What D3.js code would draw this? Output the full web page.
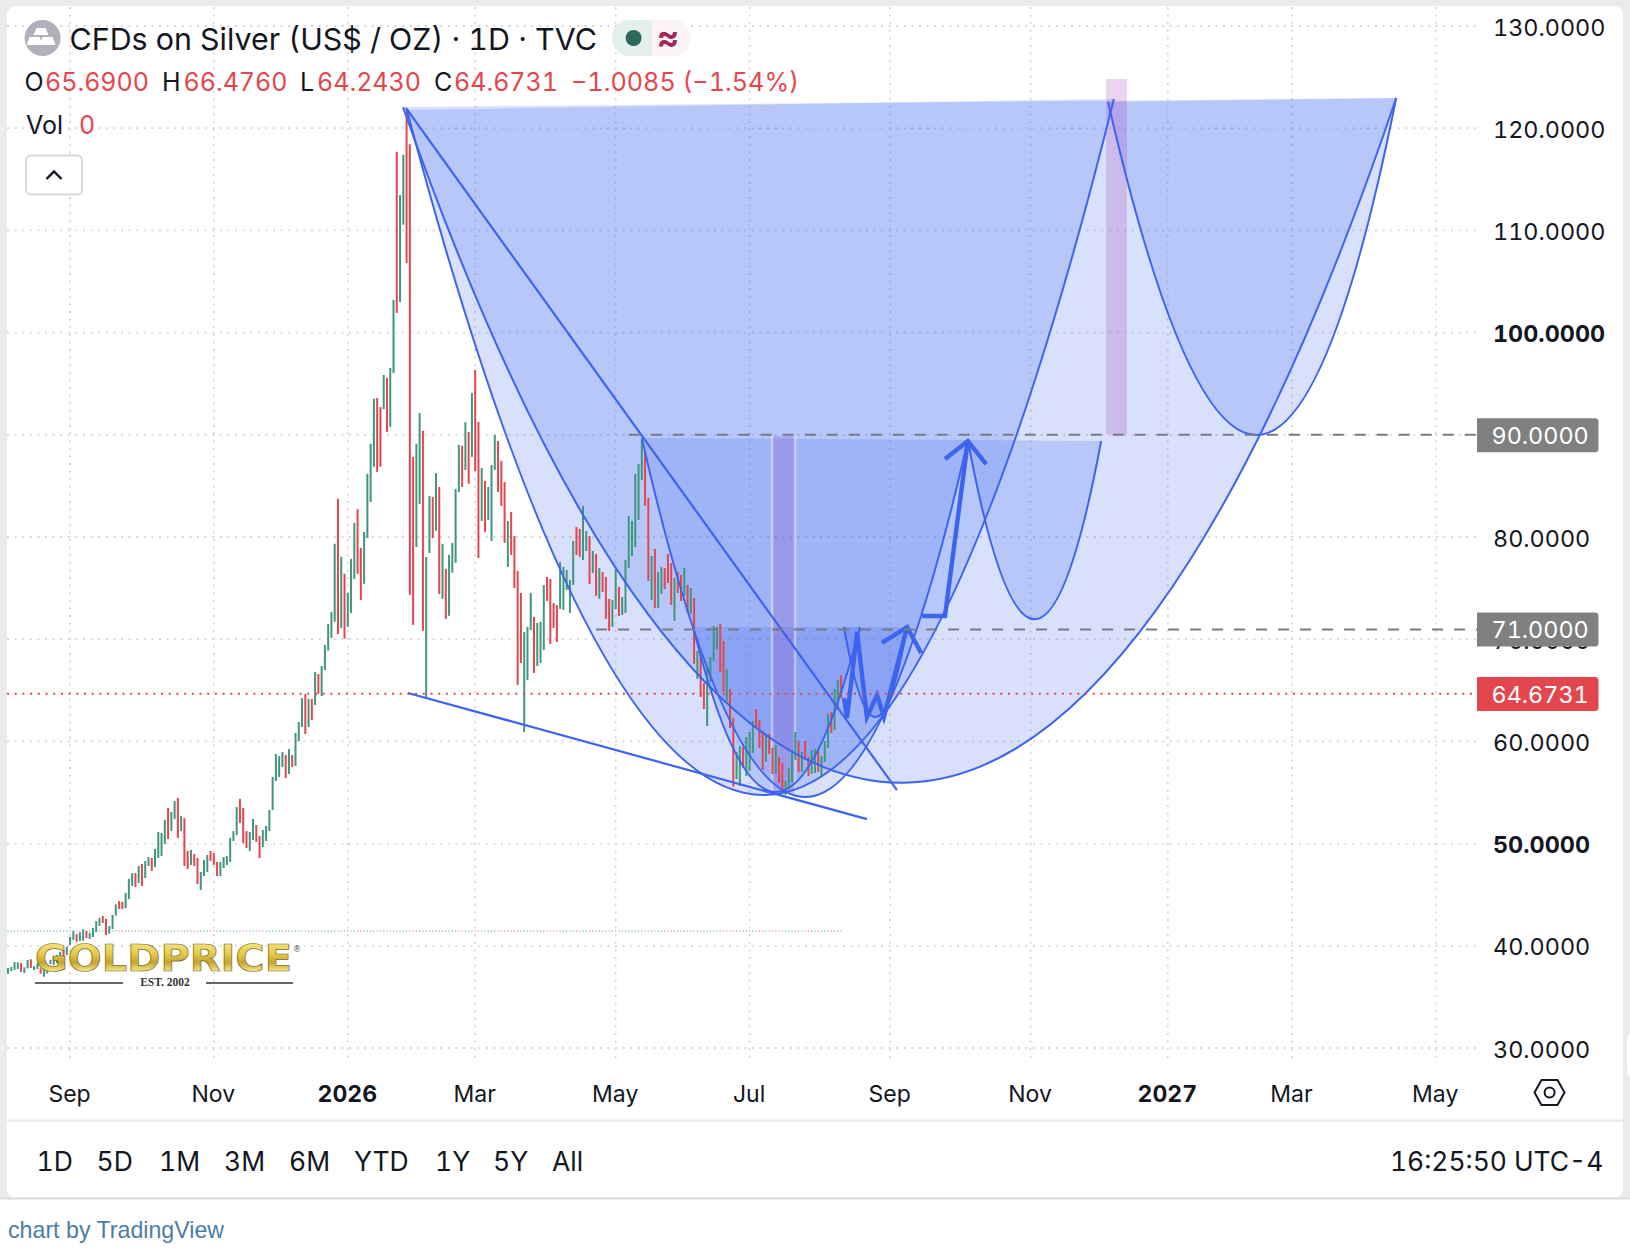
<!DOCTYPE html>
<html><head><meta charset="utf-8">
<script src="https://cdn.jsdelivr.net/npm/d3@7/dist/d3.min.js"></script>
<style>html,body{margin:0;padding:0;background:#fff;}svg{display:block;}
text{font-variant-numeric:tabular-nums;}</style>
</head><body><svg id="c" width="1630" height="1250"></svg>
<script>
// ---------- values ----------
const barHigh = [37.83,37.93,38.41,38.38,38.32,37.89,38.61,38.68,38.02,38.28,
37.79,37.63,38.12,38.61,38.94,39.1,39.43,39.6,39.92,40.86,
41.45,41.15,41.32,41.61,41.45,41.25,41.74,42.43,42.72,42.92,
42.62,41.94,43.01,44.06,44.38,44.29,45.17,46.54,47.12,47.12,
47.81,48.0,48.3,48.69,48.59,49.47,51.14,51.04,52.31,53.48,
53.09,54.17,54.46,52.7,52.5,49.28,49.37,48.98,48.59,47.22,
48.4,48.88,49.28,49.08,48.2,48.2,48.69,48.79,50.55,51.23,
53.58,54.36,53.48,51.23,51.14,52.41,51.82,50.74,51.33,51.72,
53.29,56.52,58.77,58.57,58.96,58.67,59.25,58.67,60.82,61.9,
64.25,64.64,64.15,64.15,66.79,66.59,67.38,69.43,71.48,72.68,
79.33,83.74,78.05,76.39,74.53,77.86,81.38,82.73,78.94,80.49,
86.18,89.12,93.53,93.6,92.71,95.85,95.58,96.54,103.2,117.67,
113.45,117.4,121.81,118.44,87.84,89.12,92.14,90.39,78.05,84.01,
83.93,86.25,84.9,79.33,76.89,78.25,79.41,84.71,89.0,88.92,
91.24,90.28,94.09,96.34,91.25,86.75,85.48,84.89,87.05,89.98,
89.4,87.44,85.38,81.57,82.45,80.1,76.68,74.52,70.71,71.2,
74.52,72.17,71.59,71.69,75.3,76.09,75.89,73.54,73.35,77.56,
77.07,76.77,75.8,79.61,80.98,80.79,83.04,80.59,80.1,78.63,
78.34,76.97,76.58,76.09,73.94,73.84,76.87,75.11,74.13,77.75,
82.06,81.57,86.17,87.15,89.49,88.42,83.82,78.14,78.83,76.58,
77.07,76.97,78.34,77.46,75.99,76.58,76.28,76.97,75.3,75.01,
74.03,68.85,68.95,65.72,67.48,68.26,71.29,71.2,71.49,69.83,
67.09,65.13,62.29,58.96,59.55,59.45,60.43,60.92,62.0,63.17,
62.1,61.02,60.63,60.73,59.36,59.65,58.48,57.89,56.13,57.4,
59.16,60.92,60.04,58.96,60.04,58.48,59.16,59.26,59.06,58.57,
60.04,62.68,62.88,65.13,66.01,66.48];
const barLow = [37.27,37.53,37.63,37.73,37.44,37.34,37.79,37.83,37.63,37.73,
37.27,36.98,37.3,38.22,38.12,38.3,38.61,38.77,39.1,40.08,
40.57,40.4,40.47,40.5,40.76,40.67,40.86,41.35,41.94,42.23,
41.06,41.19,41.64,42.95,43.6,43.6,43.7,44.58,45.85,45.75,
46.15,45.85,46.63,47.81,47.32,47.71,48.59,48.79,49.96,50.45,
51.23,52.41,50.55,51.23,47.81,47.51,47.91,47.81,46.05,45.46,
46.83,47.22,48.3,47.91,46.83,46.83,47.61,47.91,48.2,50.25,
50.84,52.02,50.06,49.57,49.28,50.35,50.16,48.59,49.67,50.25,
51.23,53.29,56.12,56.52,57.49,56.42,56.81,57.49,57.59,60.04,
61.41,60.72,61.41,62.09,63.56,64.64,64.44,66.98,68.89,70.12,
71.71,70.51,71.09,70.05,71.21,72.56,75.89,76.39,73.84,75.42,
79.91,83.43,86.87,86.37,86.87,92.52,90.28,90.78,96.04,101.92,
103.0,110.55,106.8,74.34,71.4,79.02,83.24,70.82,64.17,78.44,
79.91,80.61,74.42,73.95,71.98,72.29,76.51,77.47,84.4,84.9,
86.56,85.21,87.83,86.46,77.95,81.57,80.49,81.67,79.61,86.56,
84.41,83.04,79.42,77.07,78.24,75.01,65.52,67.67,60.92,66.01,
70.9,66.7,67.38,67.67,68.95,73.74,69.53,71.1,69.73,72.96,
72.86,74.82,72.57,75.31,78.24,78.05,77.75,78.63,75.4,76.48,
74.23,73.94,74.62,71.98,70.81,71.2,72.96,72.27,72.37,72.57,
76.97,78.14,79.02,81.67,85.58,83.04,75.7,73.84,73.06,73.06,
74.43,74.91,75.5,73.35,71.78,74.52,73.74,74.23,72.57,72.47,
67.58,66.11,64.35,63.17,61.51,65.82,67.87,69.04,66.79,64.84,
63.96,61.31,55.57,56.32,55.64,57.4,56.62,57.11,58.87,61.31,
59.36,57.2,57.99,58.77,56.81,56.81,55.93,55.25,54.76,55.44,
56.03,58.18,57.01,57.01,58.18,56.62,56.81,56.91,57.01,56.52,
57.99,59.36,60.82,61.12,63.07,64.24];
const barRising = [1,1,1,1,0,1,1,0,1,1, 0,1,1,1,1,1,1,0,1,1, 1,0,1,1,0,1,1,1,1,0,
0,1,1,1,0,0,1,1,1,0, 1,0,1,1,0,1,1,1,1,0, 1,1,0,1,0,0,1,0,0,1,
1,1,0,0,0,1,1,1,1,1, 1,0,0,0,1,1,0,0,1,1, 1,1,1,1,1,0,1,0,1,1,
1,0,1,0,1,0,1,1,1,1, 1,0,1,0,1,1,1,0,0,1, 1,1,1,0,0,1,0,1,1,0,
1,1,0,0,0,1,1,0,1,1, 0,1,0,1,0,1,1,1,1,0, 1,0,1,0,0,1,0,1,1,1,
0,0,0,1,0,0,0,0,1,1, 1,0,1,1,1,0,0,0,0,1, 1,1,1,1,0,0,1,1,0,1,
0,1,0,0,0,1,1,0,1,1, 1,1,1,1,1,0,0,1,0,1, 1,0,0,0,1,0,0,1,0,1,
0,1,0,0,1,1,1,1,0,0, 1,0,0,1,1,0,1,1,1,0, 0,0,1,0,0,1,0,0,1,1,
1,1,0,1,0,0,1,1,0,1, 1,1,0,1,1,0];

const priceTicks = [130,120,110,100,90,80,70,60,50,40,30];
const boldPrices = [100,50];
const timeTicks  = [19,63,104,143,186,227,270,313,355,393,437];
const timeLabels = ["Sep","Nov","2026","Mar","May","Jul","Sep","Nov","2027","Mar","May"];
const boldTimes  = ["2026","2027"];
const rangeLabels = ["1D","5D","1M","3M","6M","YTD","1Y","5Y","All"];

// cup drawings: session, price, left & right control session, control price, session, price
const cups = [
 [120.9,122.07,266.3,283.8,-10.6,424.9,122.95],
 [122.1,121.78,233.2,233.2,-12.8,338.5,122.86],
 [194.0,89.69,244.0,244.0,19.53,293.8,89.49],
 [293.8,89.49,314.2,314.2,54.46,334.6,89.39],
 [336.7,122.56,383.8,383.8,57.2,424.9,122.95],
 [209.7,71.19,234.8,234.8,38.9,260.8,71.19],
 [255.9,71.19,265.4,265.4,53.58,275.2,71.19]
];
const straightLines = [
 [[121.8,121.98],[272.1,55.24]],
 [[122.4,64.74],[262.9,52.4]]
];
const arrowPaths = [
 [[255.9,64.25],[256.8,62.29],[259.9,70.7],[262.9,62.39],[266,64.54],[268.1,62.39],[275.2,71.19]],
 [[267.5,69.63],[275.2,71.19],[279.5,68.65]],
 [[279.8,72.27],[286.8,72.27],[293.8,89.39]],
 [[286.8,87.63],[293.8,89.39],[299.4,87.14]]
];
const bandPurple = [336.1,342.5,124.81,90.08];
const bandViolet = [233.9,240.9,89.88,54.95];
const level90 = 90, level71 = 71, lastPrice = 64.6731;
const levelStart90 = 190, levelStart71 = 180;
const volBaseline = 41.45;

const ohlc = [["O","65.6900"],["H","66.4760"],["L","64.2430"],["C","64.6731"]];
const change = "−1.0085 (−1.54%)";

// ---------- layout ----------
const FONT = "Inter, 'Noto Sans', sans-serif";
const GREEN="#41967f", RED="#e4464e", BLUE="#3d64ee", INK="#131722";
const x = d3.scaleLinear().domain([0,437]).range([8,1435.7]);
const y = d3.scaleLinear().domain([30,130]).range([1048,26]);
const plotL=7, plotR=1478, plotT=7, plotB=1063;

const svg = d3.select("#c");
const defs = svg.append("defs");
const grad = defs.append("linearGradient").attr("id","gold").attr("x1",0).attr("x2",0).attr("y1",0).attr("y2",1);
[["0%","#fbf3a8"],["40%","#e6cc4a"],["60%","#c4a330"],["80%","#f5e884"],["100%","#b39430"]]
  .forEach(s=>grad.append("stop").attr("offset",s[0]).attr("stop-color",s[1]));

svg.append("rect").attr("width",1630).attr("height",1199).attr("fill","#ebebeb");
svg.append("rect").attr("x",7).attr("y",6).attr("width",1616).attr("height",1192).attr("rx",9).attr("fill","#fff");
svg.append("rect").attr("x",1627).attr("y",1032).attr("width",12).attr("height",46).attr("rx",8).attr("fill","#fff");
svg.append("rect").attr("x",7).attr("y",1119.5).attr("width",1616).attr("height",2.4).attr("fill","#ebebeb");
svg.append("rect").attr("x",0).attr("y",1197.5).attr("width",1630).attr("height",2).attr("fill","#dcdcdc");

// grid
const grid = svg.append("g").attr("stroke","#d6d6d6").attr("stroke-width",1.8).attr("stroke-dasharray","2 5.6");
priceTicks.forEach(p=>grid.append("line").attr("x1",plotL).attr("x2",plotR).attr("y1",y(p)).attr("y2",y(p)));
timeTicks.forEach(t=>grid.append("line").attr("x1",x(t)).attr("x2",x(t)).attr("y1",plotT).attr("y2",plotB));

function cupPath(c, closed){
  const [a0,p0,ql,qr,qp,a1,p1]=c;
  const X0=x(a0),Y0=y(p0),X1=x(a1),Y1=y(p1);
  const QL=x(ql),QR=x(qr),QY=y(qp);
  const p=d3.path();
  p.moveTo(X0,Y0);
  p.bezierCurveTo(X0+(QL-X0)*2/3,Y0+(QY-Y0)*2/3,X1+(QR-X1)*2/3,Y1+(QY-Y1)*2/3,X1,Y1);
  if(closed) p.closePath();
  return p.toString();
}
// fills
svg.append("g").selectAll("path").data(cups).join("path")
  .attr("d",d=>cupPath(d,true)).attr("fill",BLUE).attr("fill-opacity",0.2);

// bands
const bandRect=(b)=>({x:x(b[0]),w:x(b[1])-x(b[0]),y:y(b[2]),h:y(b[3])-y(b[2])});
{
 const a=bandRect(bandPurple);
 svg.append("rect").attr("x",a.x).attr("y",a.y).attr("width",a.w).attr("height",a.h).attr("fill","#9c27b0").attr("fill-opacity",0.2);
 const b=bandRect(bandViolet);
 svg.append("rect").attr("x",b.x).attr("y",b.y).attr("width",b.w).attr("height",b.h).attr("fill","#8c60c3").attr("fill-opacity",0.3);
 [b.x,b.x+b.w].forEach(v=>svg.append("line").attr("x1",v).attr("x2",v).attr("y1",b.y).attr("y2",b.y+b.h)
   .attr("stroke","#fff").attr("stroke-opacity",0.4).attr("stroke-width",2.6));
}

// volume baseline dots
svg.append("g").selectAll("rect").data(barRising).join("rect")
  .attr("x",(d,i)=>x(i)-0.6).attr("y",y(volBaseline)-0.7).attr("width",1.2).attr("height",1.5)
  .attr("fill",d=>d?"#7fc4b4":"#f0a0a4");

// bars
svg.append("g").selectAll("rect").data(barHigh).join("rect")
  .attr("x",(d,i)=>x(i)-1).attr("width",2)
  .attr("y",d=>y(d)).attr("height",(d,i)=>y(barLow[i])-y(d))
  .attr("fill",(d,i)=>barRising[i]?GREEN:RED);

// curve strokes
svg.append("g").selectAll("path").data(cups).join("path")
  .attr("d",d=>cupPath(d,false)).attr("fill","none").attr("stroke",BLUE).attr("stroke-width",2);
const line=d3.line().x(d=>x(d[0])).y(d=>y(d[1]));
svg.append("g").selectAll("path").data(straightLines).join("path")
  .attr("d",line).attr("fill","none").attr("stroke",BLUE).attr("stroke-width",2.2);
svg.append("g").selectAll("path").data(arrowPaths).join("path")
  .attr("d",line).attr("fill","none").attr("stroke",BLUE).attr("stroke-width",4.4).attr("stroke-linejoin","miter");

// levels
svg.append("line").attr("x1",x(levelStart90)).attr("x2",plotR).attr("y1",y(level90)).attr("y2",y(level90))
  .attr("stroke","#787b86").attr("stroke-width",2).attr("stroke-dasharray","11 11");
svg.append("line").attr("x1",x(levelStart71)).attr("x2",plotR).attr("y1",y(level71)+0.6).attr("y2",y(level71)+0.6)
  .attr("stroke","#787b86").attr("stroke-width",2).attr("stroke-dasharray","11 11");
svg.append("line").attr("x1",plotL).attr("x2",plotR).attr("y1",y(lastPrice)).attr("y2",y(lastPrice))
  .attr("stroke",RED).attr("stroke-width",2).attr("stroke-dasharray","2 5.7");

// logo
const logo=svg.append("g");
logo.append("text").attr("x",35).attr("y",971).attr("font-family","'DejaVu Sans'").attr("font-weight",700)
  .attr("font-size",38).attr("textLength",257).attr("lengthAdjust","spacingAndGlyphs")
  .attr("fill","url(#gold)").attr("stroke","#7d6a1e").attr("stroke-width",0.7).text("GOLDPRICE");
logo.append("text").attr("x",293).attr("y",952).attr("font-family","'DejaVu Sans'").attr("font-size",8).attr("fill","#555").text("®");
logo.append("line").attr("x1",35).attr("x2",123).attr("y1",983).attr("y2",983).attr("stroke","#333").attr("stroke-width",1.4);
logo.append("line").attr("x1",206).attr("x2",293).attr("y1",983).attr("y2",983).attr("stroke","#333").attr("stroke-width",1.4);
logo.append("text").attr("x",165).attr("y",986).attr("text-anchor","middle").attr("font-family","'Liberation Serif'").attr("font-weight",700)
  .attr("font-size",11.5).attr("fill","#333").text("EST. 2002");

// price axis
const yAxis=d3.axisRight(y).tickValues(priceTicks).tickSize(0).tickPadding(0).tickFormat(d=>d3.format(".4f")(d));
const gy=svg.append("g").attr("transform","translate(1493,0.7)").call(yAxis);
gy.select(".domain").remove();
gy.selectAll("text").attr("font-family",FONT).attr("font-size",23.4).attr("fill",INK).attr("dy","0.36em")
  .attr("font-weight",d=>boldPrices.includes(d)?700:400);

// time axis
const xAxis=d3.axisBottom(x).tickValues(timeTicks).tickSize(0).tickPadding(0).tickFormat((d,i)=>timeLabels[i]);
const gx=svg.append("g").attr("transform","translate(-1,1094)").call(xAxis);
gx.select(".domain").remove();
gx.selectAll("text").attr("font-family",FONT).attr("font-size",23).attr("fill",INK).attr("dy","0.36em")
  .attr("font-weight",(d,i)=>boldTimes.includes(timeLabels[i])?700:400);

// last / level labels
function priceLabel(v,txt,col){
  const cy=y(v)+0.4;
  svg.append("path").attr("d",`M1477 ${cy-17}H1595a3.5 3.5 0 0 1 3.5 3.5V${cy+13.5}a3.5 3.5 0 0 1 -3.5 3.5H1477Z`).attr("fill",col);
  svg.append("text").attr("x",1491.5).attr("y",cy+0.5).attr("dy","0.36em").attr("font-family",FONT).attr("font-size",23.4).attr("fill","#fff").text(txt);
}
priceLabel(level90,"90.0000","#808080");
priceLabel(level71,"71.0000","#808080");
priceLabel(lastPrice,"64.6731",RED);

// header
svg.append("circle").attr("cx",42.6).attr("cy",38).attr("r",18).attr("fill","#b1b0bd");
svg.append("path").attr("d","M38 29h9l3 7h-15zM31 38h10l3 8h-16zM44 38h10l3 8h-16z").attr("fill","#fff").attr("transform","translate(-1.5,-1) scale(1)");
const T=(xx,yy,s,size,fill,w)=>svg.append("text").attr("x",xx).attr("y",yy).attr("font-family",FONT)
   .attr("font-size",size).attr("fill",fill).attr("font-weight",w||400).text(s);
T(69.5,49.5,"CFDs on Silver (US$ / OZ) · 1D · TVC",30.4,INK);
svg.append("path").attr("d","M652 20H630a18 18 0 0 0 0 36H652Z").attr("fill","#e4f0ec");
svg.append("path").attr("d","M652 20H673a18 18 0 0 1 0 36H652Z").attr("fill","#fbf3f6");
svg.append("circle").attr("cx",633.6).attr("cy",38).attr("r",8).attr("fill","#2a6b5b");
T(657,49,"≈",34,"#a2275b",700);
const ohlcLabelX=[24.4,162,300,434], ohlcValueX=[45,183.5,317,454];
ohlc.forEach((d,i)=>{T(ohlcLabelX[i],91,d[0],25,INK);T(ohlcValueX[i],91,d[1],25,RED);});
T(571,91,change,25.2,RED);
T(26,134,"Vol",25,INK);T(79,134,"0",25,RED);
svg.append("rect").attr("x",26).attr("y",155.5).attr("width",56).attr("height",39).attr("rx",5).attr("fill","#fff").attr("stroke","#d8d8d8").attr("stroke-width",2);
svg.append("path").attr("d","M46.5 179l7.5-7.5l7.5 7.5").attr("fill","none").attr("stroke",INK).attr("stroke-width",2.4);

// hex icon
svg.append("path").attr("d","M1541.5 1080H1557.5L1564.5 1092.5L1557.5 1105H1541.5L1534.5 1092.5Z").attr("fill","none").attr("stroke",INK).attr("stroke-width",2);
svg.append("circle").attr("cx",1549.6).attr("cy",1092.5).attr("r",5).attr("fill","none").attr("stroke",INK).attr("stroke-width",2);

// range row
const rangeX=[36.5,96.5,159,224,289,354,435,493,552];
rangeLabels.forEach((s,i)=>T(rangeX[i],1170.6,s,26.5,INK));
T(1390,1170.6,"16:25:50 UTC-4",26.4,INK);
svg.append("text").attr("x",8).attr("y",1238).attr("font-family","'Liberation Sans'").attr("font-size",23.2).attr("fill","#4a7ea6").text("chart by TradingView");
</script></body></html>
